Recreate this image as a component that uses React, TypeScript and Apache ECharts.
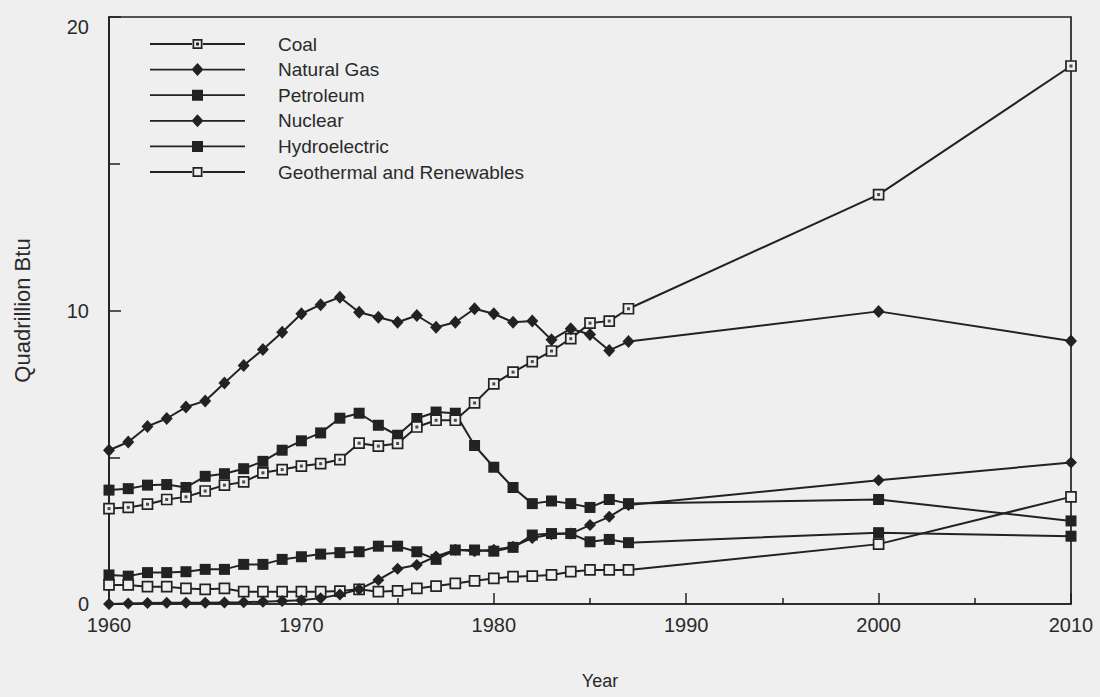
import React, { useEffect, useRef } from "react";
import * as echarts from "echarts";

const years = [1960, 1961, 1962, 1963, 1964, 1965, 1966, 1967, 1968, 1969, 1970, 1971, 1972, 1973, 1974, 1975, 1976, 1977, 1978, 1979, 1980, 1981, 1982, 1983, 1984, 1985, 1986, 1987, 2000, 2010];

const coal = [3.25, 3.29, 3.4, 3.56, 3.65, 3.85, 4.05, 4.16, 4.47, 4.58, 4.7, 4.78, 4.92, 5.48, 5.38, 5.47, 6.03, 6.26, 6.26, 6.85, 7.5, 7.9, 8.26, 8.62, 9.04, 9.57, 9.64, 10.06, 13.95, 18.33];
const naturalGas = [5.24, 5.52, 6.05, 6.32, 6.71, 6.92, 7.53, 8.13, 8.67, 9.26, 9.89, 10.2, 10.45, 9.94, 9.77, 9.6, 9.83, 9.43, 9.6, 10.06, 9.89, 9.6, 9.64, 9.0, 9.38, 9.18, 8.64, 8.94, 9.97, 8.96];
const petroleum = [3.88, 3.93, 4.05, 4.07, 3.97, 4.35, 4.44, 4.61, 4.86, 5.24, 5.56, 5.83, 6.33, 6.5, 6.09, 5.75, 6.32, 6.54, 6.5, 5.4, 4.66, 3.97, 3.42, 3.51, 3.42, 3.29, 3.56, 3.42, 3.56, 2.83];
const nuclear = [0.0, 0.02, 0.03, 0.04, 0.04, 0.04, 0.05, 0.06, 0.08, 0.1, 0.13, 0.2, 0.32, 0.5, 0.82, 1.2, 1.33, 1.62, 1.85, 1.8, 1.85, 1.95, 2.25, 2.38, 2.4, 2.69, 2.97, 3.37, 4.22, 4.82];
const hydro = [0.99, 0.95, 1.07, 1.07, 1.1, 1.18, 1.18, 1.35, 1.35, 1.52, 1.61, 1.7, 1.75, 1.78, 1.97, 1.97, 1.78, 1.52, 1.84, 1.84, 1.8, 1.93, 2.35, 2.4, 2.4, 2.12, 2.2, 2.09, 2.43, 2.31];
const geothermal = [0.65, 0.65, 0.59, 0.59, 0.53, 0.5, 0.53, 0.42, 0.42, 0.42, 0.42, 0.42, 0.44, 0.5, 0.42, 0.45, 0.53, 0.61, 0.7, 0.79, 0.87, 0.93, 0.95, 0.99, 1.1, 1.16, 1.16, 1.16, 2.04, 3.65];

const seriesNames = ["Coal", "Natural Gas", "Petroleum", "Nuclear", "Hydroelectric", "Geothermal and Renewables"];

const INK = "#222222";
const TXT = "#2a2a2a";
const BG = "#efefef";
const FONT = "Liberation Sans, Arial, sans-serif";

// legend icons: line with a marker in the middle (95 x 14 box)
const BARS = "M0,6.1H42V7.9H0Z M53,6.1H95V7.9H53Z ";
const ICON_DOT_SQUARE = "path://" + BARS + "M42.5,2H52.5V12H42.5Z M44.2,3.7V10.3H50.8V3.7Z M46,5.5H49V8.5H46Z";
const ICON_OPEN_SQUARE = "path://" + BARS + "M42.5,2H52.5V12H42.5Z M44.2,3.7V10.3H50.8V3.7Z";
const ICON_FILLED_SQUARE = "path://" + BARS + "M42,1.5H53V12.5H42Z";
const ICON_DIAMOND = "path://" + BARS + "M47.5,0.5L53.5,7L47.5,13.5L41.5,7Z";
const legendIcons = [ICON_DOT_SQUARE, ICON_DIAMOND, ICON_FILLED_SQUARE, ICON_DIAMOND, ICON_FILLED_SQUARE, ICON_OPEN_SQUARE];

const pairs = (vals: number[]) => years.map((y, i) => [y, vals[i]]);

export default function App() {
  const ref = useRef<HTMLDivElement>(null);
  useEffect(() => {
    if (!ref.current) return;
    const chart = echarts.init(ref.current, undefined, { renderer: "svg" });
    const line = (name: string, vals: number[], symbol: string, size: any, fill: string) => ({
      name,
      type: "line",
      data: pairs(vals),
      symbol,
      symbolSize: size,
      showAllSymbol: true,
      lineStyle: { color: INK, width: 2 },
      itemStyle: { color: fill, borderColor: INK, borderWidth: fill === INK ? 0 : 1.7 },
      emphasis: { disabled: true },
    });
    chart.setOption({
      animation: false,
      backgroundColor: BG,
      textStyle: { fontFamily: FONT },
      grid: { left: 109, right: 29, top: 17, bottom: 93, show: true, borderColor: INK, borderWidth: 1.7, backgroundColor: "transparent" },
      legend: {
        data: seriesNames.map((n, i) => ({ name: n, icon: legendIcons[i], itemStyle: { color: INK, borderWidth: 0 } })),
        orient: "vertical",
        left: 150,
        top: 34,
        padding: 0,
        itemWidth: 95,
        itemHeight: 14,
        itemGap: 5.6,
        selectedMode: false,
        textStyle: { fontFamily: FONT, fontSize: 19, color: TXT, lineHeight: 20, padding: [0, 0, 0, 28] },
      },
      xAxis: {
        type: "value",
        min: 1960,
        max: 2010,
        interval: 10,
        axisLine: { lineStyle: { color: INK, width: 1.7 } },
        axisTick: { inside: true, length: 11, lineStyle: { color: INK, width: 1.5 } },
        minorTick: { show: true, splitNumber: 2, length: 6, lineStyle: { color: INK, width: 1.5 } },
        splitLine: { show: false },
        axisLabel: { color: TXT, fontSize: 20, margin: 11, fontFamily: FONT, formatter: (v: number) => String(v) },
        name: "Year",
        nameLocation: "middle",
        nameGap: 68,
        nameTextStyle: { color: TXT, fontSize: 18, fontFamily: FONT, padding: [0, 0, 0, 20] },
      },
      yAxis: {
        type: "value",
        min: 0,
        max: 20,
        interval: 10,
        axisLine: { show: true, lineStyle: { color: INK, width: 1.7 } },
        axisTick: { show: true, inside: true, length: 12, lineStyle: { color: INK, width: 1.5 } },
        minorTick: { show: true, splitNumber: 2, length: 11, lineStyle: { color: INK, width: 1.5 } },
        splitLine: { show: false },
        axisLabel: { color: TXT, fontSize: 20, margin: 20, fontFamily: FONT, verticalAlignMaxLabel: "top" },
        name: "Quadrillion Btu",
        nameLocation: "middle",
        nameRotate: 90,
        nameGap: 76,
        nameTextStyle: { color: TXT, fontSize: 22, fontFamily: FONT },
      },
      series: [
        line("Hydroelectric", hydro, "rect", 11, INK),
        line("Geothermal and Renewables", geothermal, "rect", 10, BG),
        line("Nuclear", nuclear, "diamond", [12, 12], INK),
        line("Petroleum", petroleum, "rect", 11, INK),
        line("Coal", coal, "rect", 10, BG),
        line("Natural Gas", naturalGas, "diamond", [12, 13], INK),
        {
          name: "CoalDot",
          type: "scatter",
          data: pairs(coal),
          symbol: "rect",
          symbolSize: 3,
          itemStyle: { color: INK },
          silent: true,
          z: 5,
        },
      ],
    });
    return () => chart.dispose();
  }, []);
  return (
    <div style={{ position: "absolute", left: 0, top: 0, width: 1100, height: 697, background: BG }}>
      <div ref={ref} style={{ width: 1100, height: 697 }} />
    </div>
  );
}
